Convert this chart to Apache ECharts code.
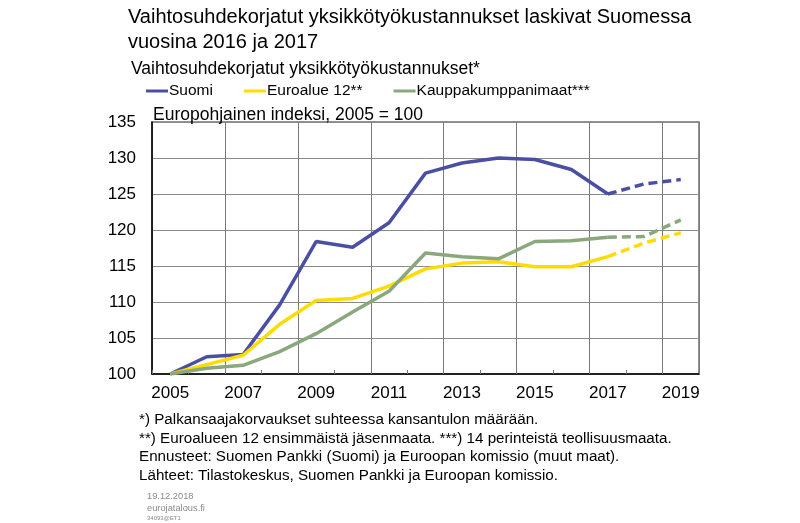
<!DOCTYPE html>
<html><head><meta charset="utf-8">
<script src="https://cdn.jsdelivr.net/npm/echarts@6/dist/echarts.min.js"></script>
<style>html,body{margin:0;padding:0;background:#fff}#c{width:800px;height:523px}</style>
</head><body><div id="c"></div>
<script>
const years = ['2005','2006','2007','2008','2009','2010','2011','2012','2013','2014','2015','2016','2017','2018','2019'];
const suomi = [100,102.4,102.7,109.6,118.4,117.6,121.0,127.9,129.3,130.0,129.8,128.4,125.0,126.4,127.0];
const euroalue = [100,101.3,102.6,106.9,110.2,110.5,112.2,114.6,115.4,115.6,114.9,114.9,116.3,118.2,119.6];
const kauppa = [100,100.8,101.2,103.1,105.6,108.6,111.5,116.8,116.3,116.0,118.4,118.5,119.0,119.1,121.4];
const names = ['Suomi','Euroalue 12**','Kauppakumppanimaat***'];
const colors = ['#4b4fa3','#ffdc00','#8aa87c'];
const forecastFrom = '2017';
const yTicks = {min:100, max:135, step:5};

const fIdx = years.indexOf(forecastFrom);
const series = [];
[suomi, euroalue, kauppa].forEach((arr, i) => {
  series.push({name:names[i], type:'line', symbol:'none', z:3,
    data: arr.map((v,k)=> k<=fIdx ? v : null),
    lineStyle:{color:colors[i], width:3.5}, itemStyle:{color:colors[i]}});
  series.push({name:names[i], type:'line', symbol:'none', z:3,
    data: arr.map((v,k)=> k>=fIdx ? v : null),
    lineStyle:{color:colors[i], width:3.5, type:[9,5]}, itemStyle:{color:colors[i]}});
});

const F = 'Liberation Sans, Arial, sans-serif';
const chart = echarts.init(document.getElementById('c'), null, {renderer:'canvas'});
chart.setOption({
  animation:false,
  title:[
    {text:'Vaihtosuhdekorjatut yksikkötyökustannukset laskivat Suomessa\nvuosina 2016 ja 2017', left:128, top:5, padding:0,
     textStyle:{fontFamily:F, fontSize:20, fontWeight:'normal', color:'#000', lineHeight:25}},
    {text:'Vaihtosuhdekorjatut yksikkötyökustannukset*', left:131, top:60, padding:0,
     textStyle:{fontFamily:F, fontSize:17.5, fontWeight:'normal', color:'#000', lineHeight:17.5}},
    {text:'Europohjainen indeksi, 2005 = 100', left:153, top:106, padding:0,
     textStyle:{fontFamily:F, fontSize:17.5, fontWeight:'normal', color:'#000', lineHeight:17.5}},
    {text:'*) Palkansaajakorvaukset suhteessa kansantulon määrään.\n**) Euroalueen 12 ensimmäistä jäsenmaata. ***) 14 perinteistä teollisuusmaata.\nEnnusteet: Suomen Pankki (Suomi) ja Euroopan komissio (muut maat).\nLähteet: Tilastokeskus, Suomen Pankki ja Euroopan komissio.',
     left:139, top:411, padding:0,
     textStyle:{fontFamily:F, fontSize:15.2, fontWeight:'normal', color:'#000', lineHeight:18.5}},
    {text:'19.12.2018\neurojatalous.fi', left:147, top:491, padding:0,
     textStyle:{fontFamily:F, fontSize:9.3, fontWeight:'normal', color:'#8a8a8a', lineHeight:11.5}},
    {text:'34093@ET1', left:147, top:515, padding:0,
     textStyle:{fontFamily:F, fontSize:6, fontWeight:'normal', color:'#8a8a8a', lineHeight:6}}
  ],
  legend:{data:names, left:146, top:83, padding:0, itemGap:31, itemWidth:22, itemHeight:3, icon:'rect',
    textStyle:{fontFamily:F, fontSize:15.5, color:'#000', padding:[0,0,0,-4]}},
  grid:{left:152, right:101, top:122, bottom:149, show:true, borderColor:'#6e6e6e', borderWidth:1.5},
  xAxis:{type:'category', data:years, boundaryGap:true,
    axisLine:{show:true, lineStyle:{color:'#000', width:1.5}},
    axisTick:{show:true, interval:0, inside:true, length:4, lineStyle:{color:'#777'}},
    axisLabel:{interval:1, fontFamily:F, fontSize:17, color:'#000', margin:11},
    splitLine:{show:true, interval:1, lineStyle:{color:'#7a7a7a', width:1}}},
  yAxis:{type:'value', min:yTicks.min, max:yTicks.max, interval:yTicks.step,
    axisLine:{show:true, lineStyle:{color:'#000', width:1.5}},
    axisTick:{show:false},
    axisLabel:{fontFamily:F, fontSize:17, color:'#000', margin:16},
    splitLine:{show:true, lineStyle:{color:'#8a8a8a', width:1}}},
  series:series
});
</script></body></html>
